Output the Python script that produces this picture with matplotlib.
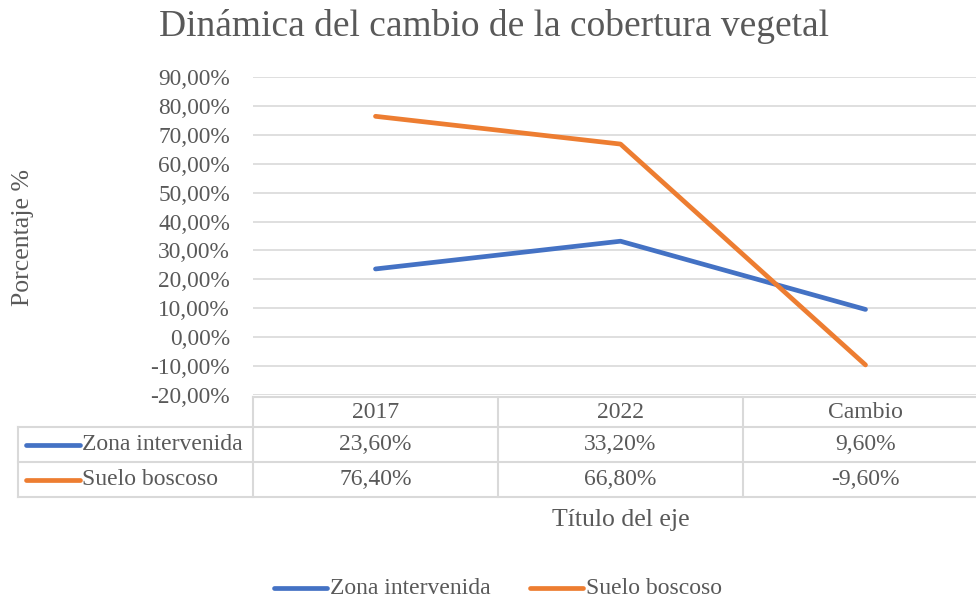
import matplotlib.pyplot as plt
import numpy as np

plt.rcParams['font.family'] = ['Liberation Serif', 'DejaVu Serif']

categorias = ['2017', '2022', 'Cambio']
zona_intervenida = [23.6, 33.2, 9.6]
suelo_boscoso = [76.4, 66.8, -9.6]
series = ['Zona intervenida', 'Suelo boscoso']
colores = ['#4472c4', '#ed7d31']
yticks = np.arange(-20, 91, 10)

gris = '#595959'
rejilla = '#d9d9d9'
W, H = 976, 601
fs = 17

fig = plt.figure(figsize=(9.76, 6.01), dpi=100)

# plot area
ax = fig.add_axes([253 / W, (H - 395) / H, 735 / W, (395 - 77) / H])
x = np.arange(len(categorias)) + 0.5
for vals, name, c in zip([zona_intervenida, suelo_boscoso], series, colores):
    ax.plot(x, vals, color=c, lw=3.4, solid_capstyle='round', label=name)
ax.set_xlim(0, 3)
ax.set_ylim(-20, 90)
ax.set_yticks(yticks)
ax.set_yticklabels([f'{v:.2f}%'.replace('.', ',') for v in yticks])
ax.set_xticks([])
ax.grid(axis='y', color=rejilla, lw=1.2)
ax.set_axisbelow(True)
for s in ax.spines.values():
    s.set_visible(False)
ax.tick_params(axis='y', length=0, labelsize=16.8, labelcolor=gris, pad=16.5)

fig.text(23 / W, 1 - 237 / H, 'Porcentaje %', rotation=90, ha='center', va='center',
         fontsize=18.5, color=gris)
fig.text(0.5 * (160 + 828) / W, 1 - 27 / H, 'Dinámica del cambio de la cobertura vegetal',
         ha='center', va='center', fontsize=27, color=gris)

# data table below the plot
tb = fig.add_axes([0, 0, 1, 1])
tb.set_xlim(0, W)
tb.set_ylim(H, 0)
tb.axis('off')
tb.patch.set_visible(False)
col_x = [253, 498, 743, 988]
row_y = [397, 427, 462, 497]
tb.plot([253, W], [397, 397], color=rejilla, lw=1.5)
for yy in row_y[1:]:
    tb.plot([18, W], [yy, yy], color=rejilla, lw=1.5)
tb.plot([18, 18], [427, 497], color=rejilla, lw=1.5)
for xx in col_x[:3]:
    tb.plot([xx, xx], [397, 497], color=rejilla, lw=1.5)
for i, cat in enumerate(categorias):
    cx = (col_x[i] + col_x[i + 1]) / 2
    tb.text(cx, 412, cat, ha='center', va='center', fontsize=fs, color=gris)
for r, (vals, name, c) in enumerate(zip([zona_intervenida, suelo_boscoso], series, colores)):
    cy = (row_y[r + 1] + row_y[r + 2]) / 2
    tb.plot([26, 80], [cy, cy], color=c, lw=3.4, solid_capstyle='round')
    tb.text(82, cy, name, ha='left', va='center', fontsize=fs, color=gris)
    for i, v in enumerate(vals):
        cx = (col_x[i] + col_x[i + 1]) / 2
        tb.text(cx, cy, f'{v:.2f}%'.replace('.', ','), ha='center', va='center',
                fontsize=fs, color=gris)

tb.text(621, 520, 'Título del eje', ha='center', va='center', fontsize=18.5, color=gris)

# legend at the bottom
for (x0, x1), name, c in zip([(274, 327), (530, 583)], series, colores):
    tb.plot([x0, x1], [588, 588], color=c, lw=3.4, solid_capstyle='round')
    tb.text(x1 + 3, 588, name, ha='left', va='center', fontsize=fs, color=gris)

fig.savefig('out.png', dpi=100)
